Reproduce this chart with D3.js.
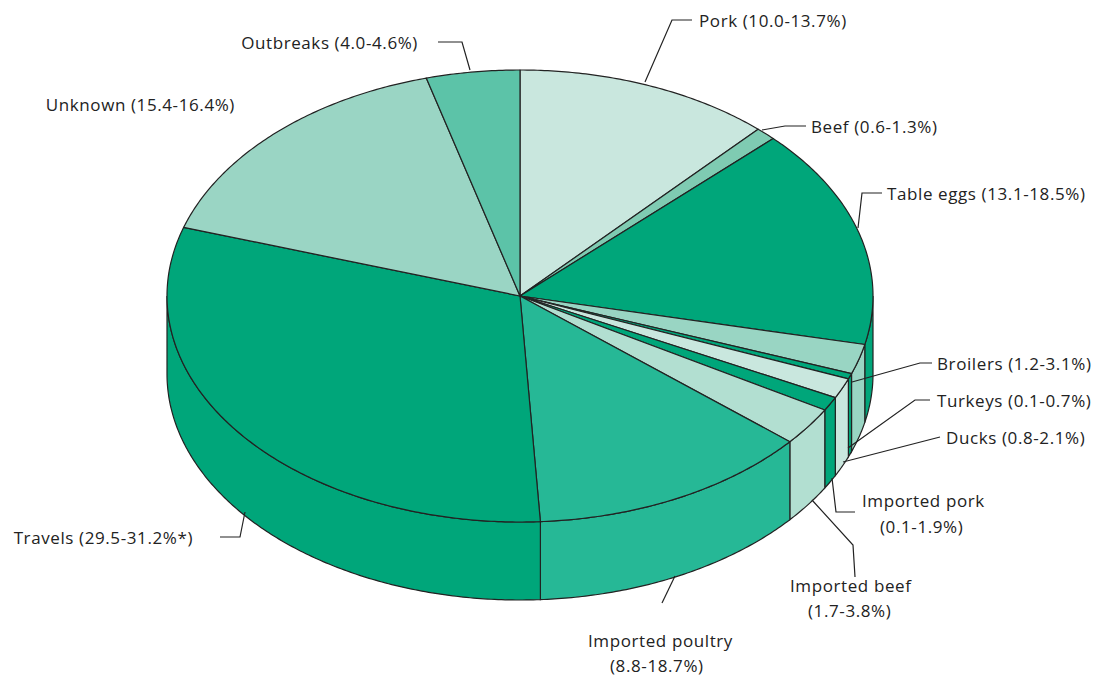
<!DOCTYPE html>
<html><head><meta charset="utf-8">
<script src="https://cdn.jsdelivr.net/npm/d3@7"></script>
<style>body{margin:0;background:#fff}</style>
</head><body>
<svg id="chart" width="1115" height="680"></svg>
<script>
const categories = ["Pork","Beef","Table eggs","Broilers","Turkeys","Ducks","Imported pork","Imported beef","Imported poultry","Travels","Unknown","Outbreaks"];
const ranges = ["10.0-13.7%","0.6-1.3%","13.1-18.5%","1.2-3.1%","0.1-0.7%","0.8-2.1%","0.1-1.9%","1.7-3.8%","8.8-18.7%","29.5-31.2%*","15.4-16.4%","4.0-4.6%"];
const values = [11.85,0.95,15.8,2.15,0.4,1.45,1.0,2.75,13.0,31.0,15.9,4.3];
const colors = ["#c9e7de","#7fcbb2","#00a67a","#99d5c3","#00a67a","#c9e7de","#00a67a","#b2dfd1","#26b896","#00a67a","#9ad5c4","#5cc3a8"];

const svg = d3.select('#chart');
const cx = 520, cy = 296, rx = 353, ry = 226, depth = 78;
const stroke = '#222';

const pie = d3.pie().sort(null).value(d => d).startAngle(0).endAngle(2*Math.PI);
const arcs = pie(values);

const pt = (a, dy) => [cx + rx*Math.sin(a), cy - ry*Math.cos(a) + (dy||0)];
const arcPts = (a0, a1, dy) => {
    const n = Math.max(2, Math.ceil((a1-a0)/0.01));
    return d3.range(n+1).map(i => pt(a0 + (a1-a0)*i/n, dy));
};
const line = d3.line();

// side walls
arcs.forEach((d, i) => {
    const s = Math.max(d.startAngle, Math.PI/2), e = Math.min(d.endAngle, 3*Math.PI/2);
    if (e <= s) return;
    const pts = arcPts(s, e, 0).concat(arcPts(s, e, depth).reverse());
    svg.append('path').attr('d', line(pts) + 'Z')
        .attr('fill', colors[i]).attr('stroke', stroke).attr('stroke-width', 1.2);
});

// top faces
arcs.forEach((d, i) => {
    const pts = [[cx, cy]].concat(arcPts(d.startAngle, d.endAngle, 0));
    svg.append('path').attr('d', line(pts) + 'Z')
        .attr('fill', colors[i]).attr('stroke', stroke).attr('stroke-width', 1.2)
        .attr('stroke-linejoin', 'round');
});

// labels with leader lines
const labels = [
    {lines:[[645,82],[672,20],[692,20]], text:[[699,27]], anchor:'start'},
    {lines:[[762,130],[785,126],[806,126]], text:[[811,133]], anchor:'start'},
    {lines:[[858,228],[862,193],[882,193]], text:[[887,200]], anchor:'start'},
    {lines:[[852,382],[920,363],[932,363]], text:[[937,370]], anchor:'start'},
    {lines:[[848,448],[915,400],[930,400]], text:[[937,407]], anchor:'start'},
    {lines:[[843,462],[940,437]], text:[[946,444]], anchor:'start'},
    {lines:[[832,478],[836,512],[855,512]], text:[[862,507],[880,533]], anchor:'start', split:true},
    {lines:[[812,500],[853,545],[855,577]], text:[[790,592],[808,617]], anchor:'start', split:true},
    {lines:[[675,576],[662,603]], text:[[588,647],[610,672]], anchor:'start', split:true},
    {lines:[[245,512],[240,537],[220,537]], text:[[193,544]], anchor:'end'},
    {lines:[], text:[[235,111]], anchor:'end'},
    {lines:[[470,70],[462,42],[438,42]], text:[[418,49]], anchor:'end'}
];

labels.forEach((l, i) => {
    if (l.lines.length) svg.append('path').attr('d', line(l.lines))
        .attr('fill', 'none').attr('stroke', stroke).attr('stroke-width', 1.2);
    const strs = l.split ? [categories[i], '(' + ranges[i] + ')'] : [categories[i] + ' (' + ranges[i] + ')'];
    strs.forEach((s, j) => {
        svg.append('text').attr('x', l.text[j][0]).attr('y', l.text[j][1])
            .attr('text-anchor', l.anchor)
            .style('font-family', 'Open Sans, sans-serif').style('font-size', '17px')
            .style('letter-spacing', '0.6px')
            .style('fill', '#222').text(s);
    });
});
</script>
</body></html>
